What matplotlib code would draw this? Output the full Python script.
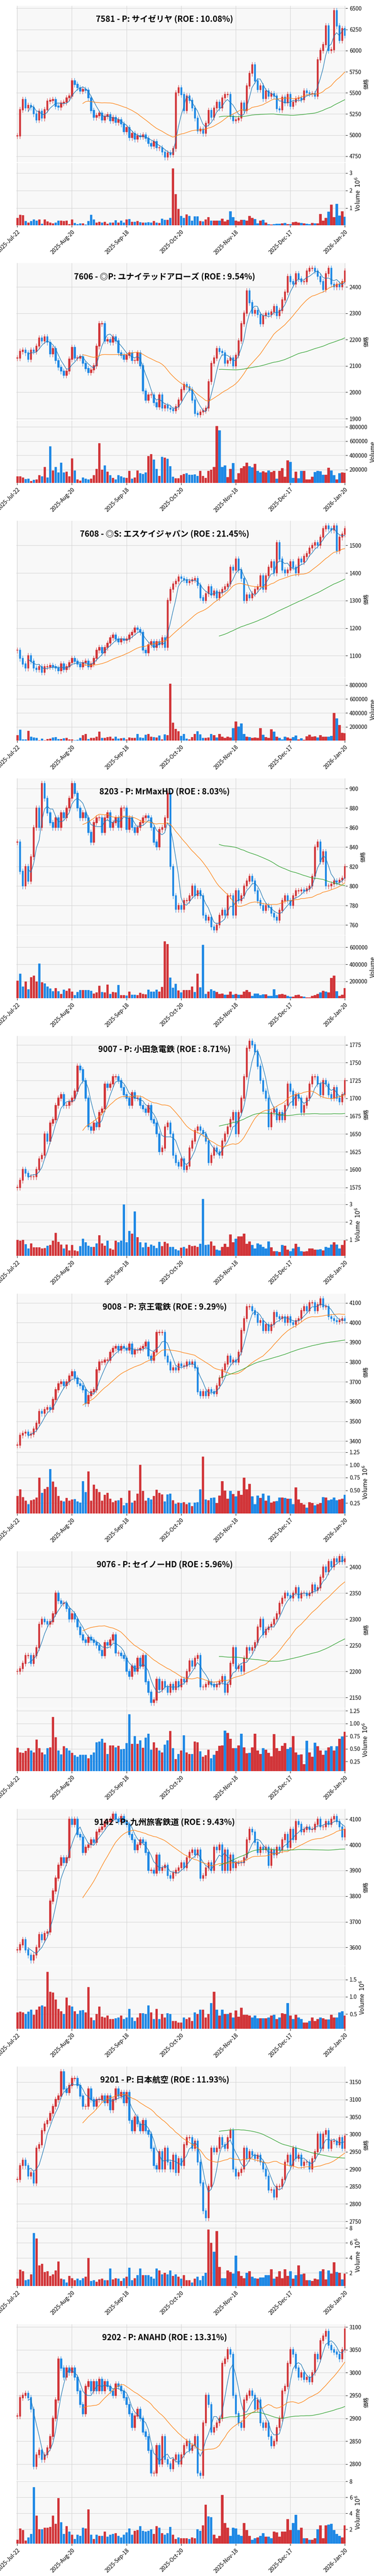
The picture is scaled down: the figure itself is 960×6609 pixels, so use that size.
import numpy as np
import pandas as pd
import matplotlib
matplotlib.use('Agg')
import matplotlib.pyplot as plt

plt.rcParams['font.family'] = ['Noto Sans CJK JP', 'DejaVu Sans']

# tick labels shared by every panel
date_labels = ['2025-Jul-22', '2025-Aug-20', '2025-Sep-18', '2025-Oct-20',
               '2025-Nov-18', '2025-Dec-17', '2026-Jan-20']

titles = [
    '7581 - P: サイゼリヤ (ROE : 10.08%)',
    '7606 - ◎P: ユナイテッドアローズ (ROE : 9.54%)',
    '7608 - ◎S: エスケイジャパン (ROE : 21.45%)',
    '8203 - P: MrMaxHD (ROE : 8.03%)',
    '9007 - P: 小田急電鉄 (ROE : 8.71%)',
    '9008 - P: 京王電鉄 (ROE : 9.29%)',
    '9076 - P: セイノーHD (ROE : 5.96%)',
    '9142 - P: 九州旅客鉄道 (ROE : 9.43%)',
    '9201 - P: 日本航空 (ROE : 11.93%)',
    '9202 - P: ANAHD (ROE : 13.31%)',
]

# daily closes
close_7581 = [4990,5300,5420,5320,5350,5330,5250,5180,5280,5200,
              5300,5400,5410,5420,5340,5330,5380,5390,5440,5460,
              5640,5600,5560,5520,5540,5530,5440,5290,5210,5230,
              5260,5180,5220,5240,5170,5210,5150,5180,5130,5040,
              5090,4970,5020,4950,4990,4980,5000,4960,4900,4870,
              4920,4850,4850,4800,4740,4790,4770,4840,5500,5560,
              5480,5290,5460,5410,5320,5200,5050,5070,5020,5140,
              5290,5210,5320,5390,5320,5440,5480,5480,5220,5170,
              5180,5200,5380,5290,5580,5730,5830,5640,5540,5580,
              5430,5520,5460,5490,5460,5310,5300,5450,5380,5480,
              5340,5390,5430,5440,5420,5520,5500,5490,5490,5460,
              5890,6000,6070,6290,6000,6010,6470,6290,6120,6260,6180]
close_7606 = [2130,2155,2160,2150,2125,2160,2155,2175,2205,2195,
              2210,2190,2145,2165,2120,2095,2080,2065,2080,2125,
              2170,2130,2130,2135,2110,2090,2075,2085,2100,2175,
              2260,2260,2195,2200,2190,2210,2195,2150,2140,2125,
              2140,2150,2120,2120,2150,2100,2005,1970,1990,1990,
              1960,1945,1990,1940,1950,1940,1935,1930,1945,1970,
              2010,2030,2020,2010,1970,1920,1915,1925,1930,1940,
              2040,2110,2130,2165,2155,2150,2110,2120,2130,2100,
              2140,2195,2260,2300,2385,2340,2300,2310,2295,2260,
              2290,2300,2295,2305,2325,2290,2310,2350,2380,2440,
              2420,2410,2450,2430,2420,2420,2460,2470,2470,2460,
              2440,2420,2390,2450,2470,2410,2400,2410,2400,2420,2460]
close_7608 = [1120,1090,1070,1055,1100,1080,1055,1050,1060,1040,
              1060,1060,1065,1060,1055,1045,1070,1050,1060,1075,
              1090,1080,1070,1060,1075,1080,1060,1070,1090,1120,
              1130,1110,1130,1145,1165,1175,1160,1150,1160,1155,
              1160,1175,1185,1200,1195,1185,1120,1110,1140,1150,
              1130,1150,1140,1165,1130,1300,1340,1360,1370,1385,
              1380,1375,1365,1370,1375,1380,1355,1310,1300,1325,
              1350,1320,1335,1310,1330,1340,1350,1360,1420,1410,
              1450,1410,1380,1300,1320,1310,1325,1340,1350,1390,
              1340,1390,1420,1440,1400,1510,1450,1410,1400,1410,
              1440,1420,1400,1450,1440,1460,1470,1490,1500,1510,
              1500,1530,1560,1570,1560,1555,1570,1480,1530,1540,1560]
close_8203 = [845,815,800,820,805,830,860,880,860,905,
              890,875,865,860,870,860,875,870,880,890,
              905,895,880,870,875,870,855,845,865,870,
              870,855,870,875,860,865,870,860,880,880,
              858,870,860,855,860,865,870,872,870,860,
              845,840,858,860,870,895,820,790,776,780,
              776,785,785,790,800,790,795,790,770,765,
              768,758,755,760,770,775,770,790,790,770,
              795,785,790,800,805,810,805,795,785,780,
              775,780,778,772,768,765,775,785,790,785,
              780,790,795,795,796,795,797,800,810,840,
              845,825,835,800,800,802,805,804,806,808,820]
close_9007 = [1575,1585,1600,1595,1590,1590,1590,1600,1615,1620,
              1650,1640,1665,1670,1690,1700,1705,1690,1690,1695,
              1700,1710,1745,1740,1725,1700,1660,1655,1665,1660,
              1680,1685,1720,1715,1720,1730,1730,1725,1715,1705,
              1700,1690,1708,1700,1700,1690,1685,1680,1690,1670,
              1665,1650,1625,1630,1660,1665,1650,1620,1610,1605,
              1615,1600,1605,1630,1640,1655,1660,1655,1650,1640,
              1610,1620,1630,1625,1620,1640,1650,1660,1670,1680,
              1650,1680,1700,1730,1770,1780,1775,1765,1745,1725,
              1710,1700,1660,1680,1685,1670,1680,1670,1690,1720,
              1710,1690,1705,1700,1680,1690,1700,1720,1730,1730,
              1720,1705,1725,1720,1705,1700,1715,1700,1695,1705,1725]
close_9008 = [3380,3430,3440,3445,3430,3435,3460,3490,3550,3540,
              3560,3570,3560,3610,3660,3690,3700,3680,3700,3730,
              3750,3720,3690,3680,3660,3590,3630,3650,3660,3760,
              3800,3800,3810,3810,3850,3870,3880,3860,3880,3870,
              3860,3890,3840,3860,3860,3870,3880,3900,3830,3810,
              3850,3950,3950,3950,3830,3800,3760,3770,3760,3790,
              3780,3780,3800,3790,3800,3770,3650,3630,3650,3630,
              3660,3650,3640,3680,3720,3760,3790,3830,3800,3810,
              3800,3850,3960,4020,4080,4080,4060,4040,4000,4010,
              3960,3990,3960,3990,4050,4030,4020,4030,4000,4030,
              4000,3990,4010,4020,4060,4080,4060,4100,4100,4060,
              4090,4120,4080,4080,4030,4020,4010,4005,4010,4020,4010]
close_9076 = [2200,2205,2215,2230,2230,2215,2230,2245,2290,2300,
              2295,2290,2295,2310,2350,2335,2330,2330,2320,2300,
              2310,2300,2285,2270,2260,2255,2265,2260,2255,2250,
              2240,2230,2255,2250,2260,2270,2235,2235,2230,2225,
              2200,2190,2210,2200,2225,2210,2230,2180,2160,2140,
              2145,2185,2165,2180,2170,2160,2175,2165,2180,2170,
              2185,2180,2200,2220,2210,2225,2230,2170,2170,2175,
              2180,2175,2170,2175,2180,2190,2160,2175,2215,2245,
              2205,2210,2200,2225,2245,2240,2245,2255,2285,2300,
              2270,2280,2285,2290,2300,2310,2330,2340,2350,2345,
              2340,2350,2360,2340,2350,2350,2345,2350,2365,2355,
              2360,2380,2400,2390,2410,2400,2415,2410,2420,2410,2415]
close_9142 = [3590,3610,3630,3590,3570,3550,3570,3600,3650,3630,
              3655,3660,3780,3820,3870,3920,3950,3930,3950,4100,
              4080,4100,4040,4030,3970,3990,4000,4020,4010,4050,
              4060,4070,4090,4090,4100,4120,4100,4090,4110,4090,
              4080,4040,4020,3980,4000,4020,4010,3970,3900,3900,
              3890,3960,3900,3910,3920,3880,3870,3890,3900,3910,
              3930,3910,3950,3970,3980,3960,3980,3870,3880,3910,
              3930,3900,3990,3980,4000,3900,3980,3900,3960,3910,
              3930,3930,3930,3950,4020,4060,4050,4010,3970,3990,
              3980,3990,3920,3980,3960,3990,3980,4020,4040,3990,
              4060,4020,4090,4080,4050,4060,4070,4060,4060,4080,
              4100,4070,4070,4090,4080,4100,4110,4090,4070,4030,4060]
close_9201 = [2870,2910,2925,2910,2880,2890,2860,2960,2970,3010,
              3030,3040,3060,3080,3100,3110,3180,3130,3120,3140,
              3160,3160,3140,3110,3080,3080,3130,3100,3080,3100,
              3100,3110,3090,3110,3070,3100,3130,3110,3120,3090,
              3120,3040,3010,3050,3030,3010,3040,3010,3000,2960,
              2910,2900,2950,2900,2960,2920,2900,2940,2890,2930,
              2910,2970,2990,2990,2960,2980,2920,2860,2780,2760,
              2850,2960,2950,2960,2990,2970,2960,2990,3010,2900,
              2880,2890,2900,2960,2930,2950,2940,2930,2940,2920,
              2900,2880,2840,2840,2820,2850,2850,2870,2920,2940,
              2910,2960,2930,2940,2910,2920,2920,2900,2930,2950,
              3000,2960,3000,3010,2960,2980,2980,2970,2990,2960,2995]
close_9202 = [2905,2945,2950,2955,2945,2920,2795,2820,2830,2810,
              2820,2835,2860,2900,2940,3030,3010,2990,3010,3000,
              3010,2990,2960,2930,2910,2970,2980,2960,2980,2960,
              2985,2960,2980,2970,2960,2950,2975,2970,2960,2945,
              2930,2910,2880,2905,2920,2900,2870,2860,2830,2780,
              2780,2840,2800,2860,2810,2800,2790,2810,2820,2800,
              2820,2840,2850,2830,2840,2860,2780,2775,2890,2950,
              2930,2870,2880,2890,2900,3020,3030,3050,3040,2950,
              2910,2890,2880,2940,2950,2960,2950,2920,2940,2890,
              2880,2890,2860,2840,2850,2880,2900,2960,2970,3020,
              3050,3040,3010,2990,3000,2985,2990,2980,3000,3040,
              3030,3070,3080,3090,3060,3050,3045,3040,3030,3050,3095]

# daily volumes (millions where the panel shows 10^6, else shares)
vol_7581 = [.45,.62,.60,.27,.17,.27,.36,.30,.35,.12,
            .35,.25,.18,.14,.18,.28,.30,.26,.28,.10,
            .35,.15,.10,.14,.13,.06,.27,.62,.35,.17,
            .22,.17,.22,.12,.17,.17,.31,.17,.30,.17,
            .35,.37,.22,.22,.27,.20,.17,.17,.20,.17,
            .27,.17,.15,.40,.33,.33,.45,3.25,1.8,.95,
            .55,.45,.65,.55,.28,.54,.53,.27,.25,.36,
            .48,.30,.28,.28,.28,.40,.25,.33,.82,.50,
            .28,.25,.33,.33,.28,.55,.45,.38,.14,.28,
            .33,.17,.10,.06,.10,.12,.12,.14,.16,.10,
            .09,.20,.22,.17,.16,.14,.11,.08,.15,.13,
            .13,.67,.30,.45,.80,1.20,.50,1.25,.57,.83,.52]
vol_7606 = [105000,105000,90000,70000,75000,40000,55000,60000,125000,105000,
            240000,90000,530000,190000,240000,160000,300000,160000,170000,105000,
            360000,190000,60000,45000,90000,75000,60000,75000,125000,210000,
            570000,200000,260000,170000,120000,85000,60000,120000,105000,90000,
            85000,180000,75000,90000,190000,150000,140000,160000,390000,420000,
            340000,210000,110000,380000,370000,350000,250000,100000,80000,80000,
            120000,140000,150000,130000,130000,135000,110000,180000,110000,85000,
            180000,200000,240000,810000,750000,240000,260000,95000,210000,290000,
            60000,150000,220000,250000,300000,250000,230000,280000,180000,160000,
            175000,160000,190000,165000,180000,75000,180000,220000,100000,330000,
            310000,85000,170000,80000,180000,180000,60000,60000,100000,165000,
            185000,175000,130000,130000,225000,190000,120000,60000,150000,160000,155000]
vol_7608 = [80000,160000,20000,20000,145000,60000,50000,40000,10000,30000,
            10000,25000,30000,50000,55000,25000,25000,35000,45000,20000,
            20000,10000,15000,40000,80000,100000,25000,45000,45000,60000,
            130000,45000,40000,55000,60000,30000,60000,30000,35000,40000,
            20000,50000,45000,40000,100000,50000,40000,90000,100000,60000,
            55000,50000,75000,20000,95000,80000,820000,260000,170000,140000,
            70000,100000,30000,20000,55000,100000,140000,95000,40000,45000,
            50000,100000,80000,50000,100000,60000,40000,60000,50000,180000,
            280000,205000,250000,100000,60000,55000,40000,50000,45000,180000,
            90000,55000,40000,165000,135000,60000,45000,20000,60000,50000,
            30000,55000,75000,20000,35000,15000,65000,90000,60000,65000,
            50000,80000,60000,60000,60000,70000,400000,320000,230000,115000,110000]
vol_8203 = [210000,290000,140000,200000,110000,250000,270000,200000,410000,190000,
            175000,140000,115000,85000,120000,85000,55000,105000,90000,115000,
            80000,40000,75000,100000,100000,100000,100000,90000,60000,70000,
            150000,75000,70000,165000,55000,75000,70000,160000,40000,40000,
            35000,80000,45000,45000,40000,65000,55000,50000,105000,80000,
            80000,105000,80000,135000,670000,640000,245000,125000,170000,95000,
            70000,100000,100000,100000,140000,75000,290000,130000,630000,55000,
            80000,110000,90000,75000,55000,60000,45000,45000,80000,45000,
            55000,45000,45000,80000,100000,75000,30000,60000,60000,40000,
            50000,50000,30000,30000,110000,40000,50000,55000,45000,30000,
            20000,20000,40000,45000,25000,20000,10000,10000,30000,40000,
            55000,70000,90000,80000,70000,240000,270000,85000,30000,45000,120000]
vol_9007 = [1.0,.95,1.0,.75,.5,.8,.57,.57,.57,.5,
            .52,.65,.7,.95,1.38,.88,.73,.5,.73,.4,
            .7,.4,.35,.63,1.05,.87,.65,.6,.6,.8,
            1.25,.8,.65,.95,.5,.45,.95,.85,.94,3.0,
            .87,1.5,1.35,2.6,1.15,.87,.57,.83,.6,.73,
            .67,.52,.88,.63,.88,.8,.6,.6,.47,.4,
            .54,.6,.5,.7,.63,.65,.6,.78,3.3,.7,
            .73,.9,.66,.45,.4,.6,.78,.6,1.3,.85,
            1.05,1.2,1.2,1.35,.78,.9,.7,.5,.8,.73,
            .6,.5,.9,.57,.35,.35,.3,.7,.67,.45,
            .35,.5,.78,.6,.35,.32,.35,.5,.5,.45,
            .45,.47,.4,.6,.55,.72,.85,.72,.5,.7,.98]
vol_9008 = [.39,.52,.37,.30,.23,.31,.32,.36,.75,.45,
            .53,.57,.92,.67,.57,.39,.30,.28,.35,.30,
            .32,.33,.28,.26,.68,.47,.87,.30,.61,.53,
            .47,.30,.41,.45,.34,.27,.30,.31,.35,.21,
            .25,.50,.26,.30,.44,1.0,.49,.30,.35,.32,
            .39,.51,.45,.42,.28,.42,.44,.31,.24,.26,
            .25,.27,.23,.26,.19,.26,.27,.52,1.16,.32,
            .31,.35,.36,.25,.40,.68,.50,.34,.49,.43,
            .38,.49,.41,.75,.52,.63,.38,.23,.40,.35,
            .44,.30,.40,.26,.28,.29,.36,.36,.35,.34,
            .34,.23,.56,.32,.25,.22,.16,.27,.25,.21,
            .23,.25,.37,.36,.31,.32,.36,.31,.32,.34,.41]
vol_9076 = [.52,.43,.42,.46,.51,.47,.43,.68,.51,.43,
            .39,.51,.53,1.13,.73,.47,.39,.55,.51,.47,
            .42,.37,.34,.38,.38,.38,.31,.38,.43,.63,
            .64,.70,.62,.40,.57,.57,.53,.56,.49,.50,
            .61,1.18,.60,.75,.60,.67,.52,.72,.80,.48,
            .63,.52,.47,.43,.58,.67,.85,.51,.30,.40,
            .47,.77,.43,.40,.40,.64,.63,.45,.34,.37,
            .48,.31,.38,.46,.56,.57,.86,.81,.70,.51,
            .51,.57,.80,.53,.41,.42,.53,.80,.47,.40,
            .51,.48,.42,.35,.79,.51,.46,.56,.61,.50,
            .53,.75,.43,.38,.39,.20,.66,.43,.34,.62,
            .55,.47,.38,.47,.53,.55,.47,.55,.70,.74,.84]
vol_9142 = [.55,.57,.55,.50,.57,.62,.48,.62,.72,.75,
            .72,1.72,1.15,1.12,.92,.65,.58,.50,.97,.75,
            .72,.58,.50,.60,.61,.55,1.28,.40,.32,.50,
            .72,.42,.40,.45,.35,.35,.38,.40,.45,.35,
            .40,.65,.40,.30,.40,.52,.52,.50,.75,.55,
            .35,.65,.35,.50,.40,.52,.50,.30,.30,.25,
            .25,.40,.35,.40,.30,.55,.50,.62,.62,.40,
            .50,.82,1.15,.62,.45,.62,.50,.50,.53,.40,
            .60,.42,.68,.48,.48,.45,.40,.45,.38,.38,
            .38,.38,.40,.45,.48,.35,.40,.52,.50,.82,
            .45,.35,.48,.40,.35,.25,.25,.30,.40,.30,
            .35,.40,.38,.34,.34,.48,.40,.40,.55,.58,.45]
vol_9201 = [1.2,2.4,2.2,1.0,1.1,1.8,7.3,6.6,3.0,3.2,
            2.1,2.2,1.6,1.8,2.3,3.5,1.2,1.1,.7,1.6,
            1.3,1.0,1.2,1.0,1.3,1.5,4.0,.9,1.0,.8,
            1.1,1.2,1.0,1.0,2.6,1.1,1.3,1.2,.9,1.3,
            1.5,2.7,1.0,1.3,1.7,2.6,1.7,1.7,1.7,1.5,
            1.2,2.6,2.3,1.8,2.0,1.8,2.3,1.6,1.8,1.5,
            1.2,1.7,1.0,1.0,.7,1.2,1.5,1.0,1.6,2.0,
            7.8,6.0,4.8,7.6,2.8,1.3,1.3,2.3,2.1,1.9,
            4.3,2.2,1.6,1.3,2.0,2.2,1.5,1.3,1.2,1.4,
            1.4,1.7,1.7,2.5,1.2,1.5,2.2,1.3,2.5,1.6,
            2.2,1.2,1.7,3.0,1.8,1.9,1.0,1.0,.9,1.2,
            1.1,2.2,2.5,1.1,2.3,1.9,3.4,2.1,2.0,1.1,1.9]
vol_9202 = [.7,2.1,1.9,.6,1.0,1.4,7.3,3.7,2.0,2.0,
            2.2,2.2,2.3,3.7,2.7,5.9,2.9,1.4,2.4,1.7,
            1.3,.8,1.3,1.2,2.2,2.1,4.5,1.3,.8,1.3,
            1.2,1.2,1.7,1.1,1.3,1.4,1.5,1.2,1.0,1.3,
            1.6,2.1,1.3,1.8,1.9,2.4,1.8,1.7,1.8,2.0,
            1.4,2.4,2.2,1.5,1.3,1.5,2.3,1.3,.8,1.0,
            .9,.9,.9,.8,1.0,.9,2.0,1.8,2.5,5.1,
            3.6,3.5,1.3,.9,1.2,6.3,2.8,2.2,1.2,2.2,
            2.1,1.3,1.2,2.8,1.9,1.2,.7,.9,1.0,1.2,
            1.5,1.1,1.1,.9,1.7,1.6,1.1,1.7,1.7,3.3,
            1.9,2.8,3.8,1.9,2.2,.9,.9,.7,.7,.9,
            2.0,2.5,.9,2.5,2.6,2.7,1.9,1.4,1.2,1.0,2.5]

closes = [close_7581, close_7606, close_7608, close_8203, close_9007,
          close_9008, close_9076, close_9142, close_9201, close_9202]
volumes = [vol_7581, vol_7606, vol_7608, vol_8203, vol_9007,
           vol_9008, vol_9076, vol_9142, vol_9201, vol_9202]
in_millions = [True, False, False, False, True, True, True, True, True, True]

UP = '#d13438'
DOWN = '#1e88e5'
BG = '#f8f8f8'
GRID = '#d6d6d6'

fig = plt.figure(figsize=(9.6, 66.09), dpi=100)
ph = 1.0 / len(titles)

for i, (title, c, v, mil) in enumerate(zip(titles, closes, volumes, in_millions)):
    n = min(len(c), len(v))
    c = np.array(c[:n], dtype=float)
    v = np.array(v[:n], dtype=float)
    o = np.concatenate([[c[0]], c[:-1]])
    rng = c.max() - c.min()
    wick = 0.02 * rng
    hi = np.maximum(o, c) + wick
    lo = np.minimum(o, c) - wick
    up = c >= o
    cols = np.where(up, UP, DOWN)
    x = np.arange(n)

    top = 1 - i * ph
    ax = fig.add_axes([0.044, top - 0.63 * ph, 0.88, 0.608 * ph])
    axv = fig.add_axes([0.044, top - 0.875 * ph, 0.88, 0.243 * ph], sharex=ax)

    for a in (ax, axv):
        a.set_facecolor(BG)
        a.grid(True, color=GRID, linewidth=0.9)
        a.set_axisbelow(True)
        a.yaxis.tick_right()
        a.yaxis.set_label_position('right')
        for s in a.spines.values():
            s.set_visible(False)
        a.tick_params(axis='y', labelsize=10)

    ax.vlines(x, lo, hi, colors=cols, linewidth=0.8)
    ax.bar(x, np.abs(c - o) + rng * 0.004, bottom=np.minimum(o, c), width=0.6,
           color=cols, edgecolor=cols, linewidth=0.5)
    s = pd.Series(c)
    for w, col in [(5, '#1f77b4'), (25, '#ff7f0e'), (75, '#2ca02c')]:
        ax.plot(x, s.rolling(w).mean(), color=col, linewidth=1)
    pad = 0.015 * (hi.max() - lo.min())
    ax.set_ylim(lo.min() - pad, hi.max() + pad)
    ax.set_ylabel('価格', fontsize=10)
    ax.tick_params(axis='x', labelbottom=False, length=0)
    ax.text(0.45, 0.915, title, transform=ax.transAxes, ha='center', va='center',
            fontsize=15, fontweight='bold')

    axv.bar(x, v, width=0.8, color=cols, edgecolor=cols, linewidth=0.6)
    axv.set_ylim(0.3 * v.min(), 1.1 * v.max())
    axv.set_ylabel('Volume  $10^{6}$' if mil else 'Volume', fontsize=11)
    ticks = np.linspace(0, n - 1, len(date_labels))
    axv.set_xticks(ticks)
    axv.set_xticklabels(date_labels, rotation=45, ha='right',
                        rotation_mode='anchor', fontsize=10)
    axv.set_xlim(-0.3, n - 0.7)

fig.savefig('out.png', dpi=100, facecolor='white')
